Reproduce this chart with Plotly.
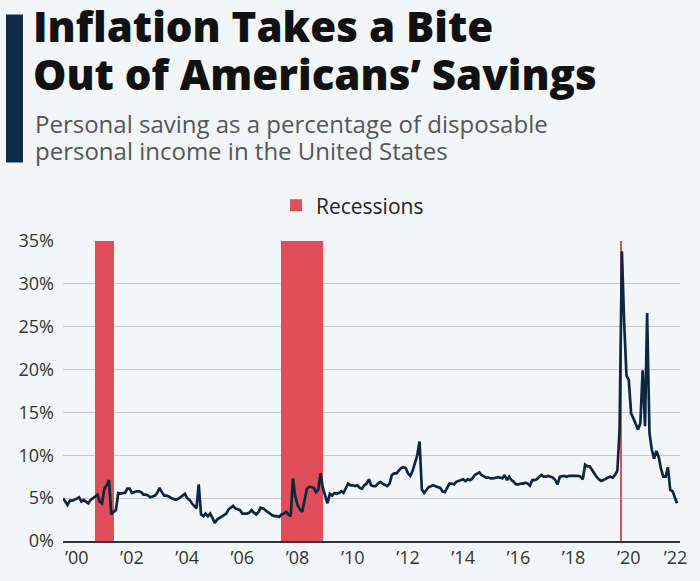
import pandas as pd
import plotly.graph_objects as go

# ---------------- data ----------------
y2000 = [5.0, 4.6, 4.2, 4.7, 4.7, 4.8, 5.0, 5.1, 4.6, 4.8, 4.6, 4.4]
y2001 = [4.8, 5.0, 5.2, 5.4, 4.6, 4.4, 6.1, 6.5, 7.1, 3.1, 3.4, 3.6]
y2002 = [5.6, 5.5, 5.6, 5.6, 6.1, 6.1, 5.6, 5.7, 5.8, 5.8, 5.7, 5.4]
y2003 = [5.4, 5.3, 5.1, 5.2, 5.3, 5.6, 6.2, 5.7, 5.3, 5.3, 5.2, 5.0]
y2004 = [4.9, 4.8, 4.9, 5.1, 5.2, 5.5, 5.0, 4.8, 4.4, 4.1, 3.8, 6.6]
y2005 = [3.1, 2.9, 3.2, 2.9, 3.2, 2.7, 2.1, 2.5, 2.7, 2.9, 3.1, 3.2]
y2006 = [3.7, 3.9, 4.1, 3.8, 3.7, 3.6, 3.2, 3.2, 3.2, 3.3, 3.6, 3.3]
y2007 = [3.1, 3.4, 3.9, 3.8, 3.6, 3.4, 3.2, 3.0, 2.9, 2.9, 2.8, 3.1]
y2008 = [3.2, 3.4, 3.1, 2.9, 7.3, 5.2, 4.2, 3.7, 3.4, 4.8, 6.1, 6.3]
y2009 = [6.3, 6.2, 5.7, 6.0, 7.9, 6.2, 5.4, 4.4, 5.5, 5.3, 5.6, 5.5]
y2010 = [5.6, 5.8, 5.6, 6.1, 6.7, 6.5, 6.5, 6.4, 6.5, 6.2, 6.1, 6.5]
y2011 = [6.7, 7.2, 6.5, 6.4, 6.4, 6.7, 6.9, 6.7, 6.5, 6.4, 6.7, 7.7]
y2012 = [7.9, 7.9, 8.2, 8.5, 8.6, 8.5, 7.9, 7.6, 8.2, 9.0, 10.0, 11.6]
y2013 = [6.0, 5.6, 6.0, 6.3, 6.4, 6.5, 6.4, 6.3, 6.2, 5.8, 5.7, 6.2]
y2014 = [6.7, 6.7, 6.6, 6.9, 7.0, 7.1, 7.2, 7.0, 7.2, 7.1, 7.3, 7.7]
y2015 = [7.9, 8.0, 7.7, 7.55, 7.4, 7.4, 7.3, 7.3, 7.4, 7.45, 7.4, 7.3]
y2016 = [7.7, 7.1, 7.5, 7.1, 6.9, 6.6, 6.6, 6.7, 6.7, 6.8, 6.7, 6.45]
y2017 = [7.1, 7.1, 7.2, 7.4, 7.7, 7.5, 7.5, 7.6, 7.5, 7.4, 7.1, 6.6]
y2018 = [7.5, 7.6, 7.6, 7.5, 7.6, 7.6, 7.6, 7.6, 7.6, 7.5, 7.2, 8.9]
y2019 = [8.7, 8.7, 8.3, 7.8, 7.5, 7.2, 7.0, 7.1, 7.3, 7.4, 7.5, 7.4]
y2020 = [7.7, 8.2, 12.9, 33.8, 25.5, 19.3, 18.8, 14.9, 14.3, 13.6, 13.0, 13.7]
y2021 = [19.9, 13.4, 26.6, 12.6, 10.7, 9.6, 10.5, 9.8, 8.4, 7.5, 7.5, 8.6]
y2022 = [5.95, 5.8, 5.0, 4.4]

saving_rate = (y2000 + y2001 + y2002 + y2003 + y2004 + y2005 + y2006 + y2007 +
               y2008 + y2009 + y2010 + y2011 + y2012 + y2013 + y2014 + y2015 +
               y2016 + y2017 + y2018 + y2019 + y2020 + y2021 + y2022)
months = pd.date_range("2000-01-01", periods=len(saving_rate), freq="MS")

recession_start = ["2001-03-01", "2007-12-01", "2020-03-08"]
recession_end = ["2001-11-01", "2009-06-01", "2020-04-05"]

tick_years = list(range(2000, 2023, 2))
tick_labels = ["\u2019" + str(y)[2:] for y in tick_years]

y_ticks = [0, 5, 10, 15, 20, 25, 30, 35]
y_tick_labels = [f"{v}%" for v in y_ticks]

y_max = 35
x_start = "2000-01-01"
x_end = "2022-05-10"

title_lines = ["Inflation Takes a Bite", "Out of Americans\u2019 Savings"]
subtitle_lines = ["Personal saving as a percentage of disposable",
                  "personal income in the United States"]

# ---------------- figure ----------------
BG = "#f3f6f9"
RED = "#de4f5a"
NAVY = "#0f2640"

rs = pd.to_datetime(recession_start)
re_ = pd.to_datetime(recession_end)
centers = [a + (b - a) / 2 for a, b in zip(rs, re_)]
widths = [(b - a).total_seconds() * 1000 for a, b in zip(rs, re_)]

fig = go.Figure()
fig.add_trace(go.Bar(
    x=centers, y=[y_max] * len(centers), width=widths,
    marker=dict(color=RED, line=dict(width=0)),
    name="Recessions", showlegend=True, hoverinfo="skip",
))
fig.add_trace(go.Scatter(
    x=months, y=saving_rate, mode="lines",
    line=dict(color=NAVY, width=2.7),
    name="Personal saving rate", showlegend=False,
))

# tick positions: mid-year, last one kept inside the range
end_ts = pd.Timestamp(x_end)
tickvals = []
for y in tick_years:
    t = pd.Timestamp(f"{y}-07-01")
    if t > end_ts - pd.Timedelta(days=55):
        t = end_ts - pd.Timedelta(days=60)
    tickvals.append(t)

L, R, T, B = 63, 20, 241, 34
W, H = 700, 581
PW, PH = W - L - R, H - T - B


def px(xp):
    return (xp - L) / PW


def py(yp):
    return (H - B - yp) / PH


fig.update_layout(
    width=W, height=H,
    margin=dict(l=L, r=R, t=T, b=B, pad=0),
    paper_bgcolor=BG, plot_bgcolor=BG,
    font=dict(family="Open Sans", color="#333333", size=18),
    bargap=0,
    showlegend=True,
    legend=dict(orientation="h", x=px(276), xanchor="left", y=py(205), yanchor="middle",
                font=dict(size=21, color="#222222"), bgcolor="rgba(0,0,0,0)"),
    xaxis=dict(type="date", range=[x_start, x_end], tickvals=tickvals, ticktext=tick_labels,
               showgrid=False, zeroline=False, showline=True, linecolor="#333333", linewidth=1.5,
               ticks="", tickfont=dict(size=18, color="#333333")),
    yaxis=dict(range=[0, y_max], tickvals=y_ticks, ticktext=y_tick_labels,
               showgrid=True, gridcolor="#c6c9cd", gridwidth=1, zeroline=False,
               ticks="", ticklabelstandoff=8, tickfont=dict(size=18, color="#333333")),
)

fig.add_shape(type="rect", xref="paper", yref="paper",
              x0=px(6), x1=px(23), y0=py(161), y1=py(10),
              fillcolor="#0e2a47", line=dict(width=0), layer="above")

K_ASC = 1.2  # measured text-box top (em) above the first baseline

# title: 42px glyphs with the reference's tight line pitch
TS, TPITCH = 42, 47.6
title_html = "<br>".join(f"<span style='font-size:{TS}px'>{t}</span>" for t in title_lines)
t_base1 = 41.7
fig.add_annotation(text=title_html, xref="paper", yref="paper", x=px(31),
                   y=py(t_base1 - K_ASC * TS - 1),
                   xanchor="left", yanchor="top", showarrow=False, align="left",
                   font=dict(family="Open Sans", size=TPITCH / 1.3, color="#111111", weight=800))

SS, SPITCH = 24, 27
sub_html = "<br>".join(f"<span style='font-size:{SS}px'>{t}</span>" for t in subtitle_lines)
s_base1 = 131.7
fig.add_annotation(text=sub_html, xref="paper", yref="paper", x=px(33),
                   y=py(s_base1 - K_ASC * SS - 1),
                   xanchor="left", yanchor="top", showarrow=False, align="left",
                   font=dict(family="Open Sans", size=SPITCH / 1.3, color="#555555"))

fig.write_html("out.html", config={"displayModeBar": False},
               post_script="document.body.style.margin='0';")
